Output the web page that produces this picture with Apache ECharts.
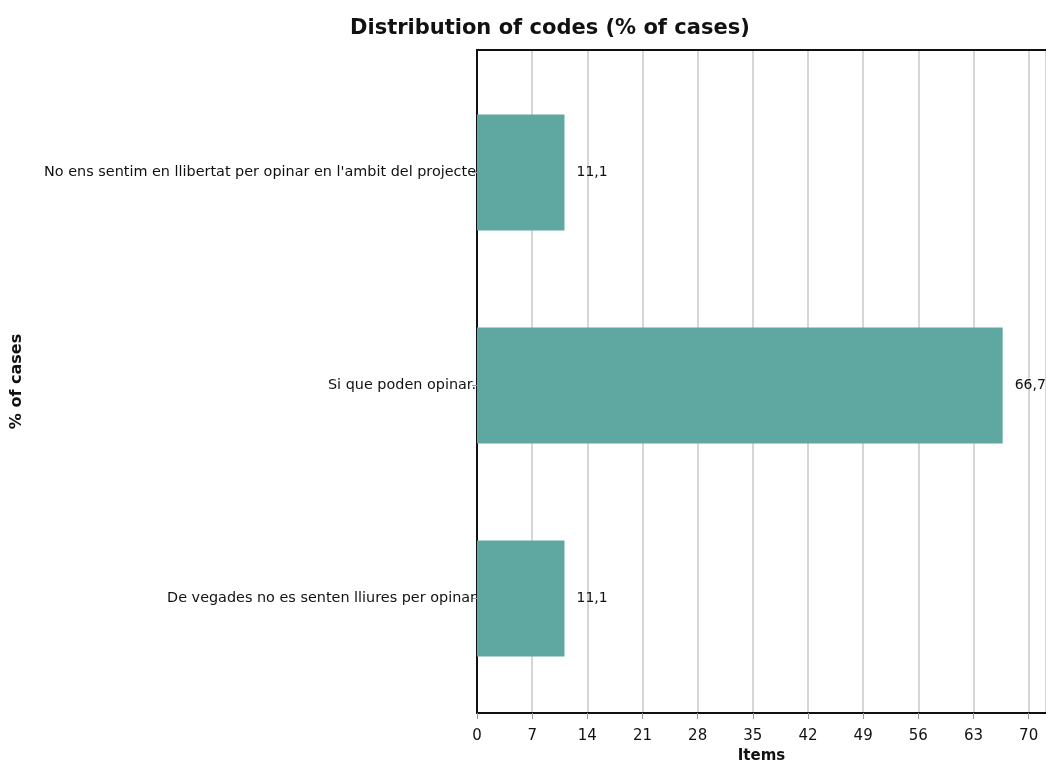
<!DOCTYPE html>
<html>
<head>
<meta charset="utf-8">
<script src="https://cdn.jsdelivr.net/npm/echarts@6/dist/echarts.min.js"></script>
<style>html,body{margin:0;padding:0;background:#fff}#c{width:1046px;height:762px}</style>
</head>
<body>
<div id="c"></div>
<script>
const categories = [
  "De vegades no es senten lliures per opinar",
  "Si que poden opinar.",
  "No ens sentim en llibertat per opinar en l'ambit del projecte"
];
const values = [11.1, 66.7, 11.1];
const chartTitle = "Distribution of codes (% of cases)";
const xName = "Items";
const yName = "% of cases";
const xMax = 72.2;
const xInterval = 7;

const chart = echarts.init(document.getElementById('c'), null, {renderer: 'canvas'});
const font = "'DejaVu Sans',sans-serif";
chart.setOption({
  animation: false,
  backgroundColor: '#ffffff',
  title: {
    text: chartTitle, left: 345, top: 13,
    textStyle: {fontFamily: font, fontWeight: 'bold', fontSize: 21, color: '#111'}
  },
  grid: [
    {left: 477, right: 0, top: 50, bottom: 49, outerBoundsMode: 'none', containLabel: false},
    {left: 477, right: 0, top: 66, bottom: 57, outerBoundsMode: 'none', containLabel: false}
  ],
  xAxis: [
    {
      gridIndex: 0, type: 'value', min: 0, max: xMax, interval: xInterval,
      name: xName, nameLocation: 'middle', nameGap: 36,
      nameTextStyle: {fontFamily: font, fontWeight: 'bold', fontSize: 15, color: '#111'},
      axisLine: {show: true, lineStyle: {color: '#111', width: 2}},
      axisTick: {show: true, length: 6, lineStyle: {color: '#999'}},
      axisLabel: {showMaxLabel: false, margin: 16, fontFamily: font, fontSize: 15, color: '#111',
        formatter: v => (Math.abs(v / xInterval - Math.round(v / xInterval)) < 1e-6) ? String(v) : ''},
      splitLine: {show: true, lineStyle: {color: '#c8c8c8', width: 1.5}}
    },
    {
      gridIndex: 0, type: 'value', min: 0, max: xMax, position: 'top',
      axisLine: {show: true, lineStyle: {color: '#111', width: 2}},
      axisTick: {show: false}, axisLabel: {show: false}, splitLine: {show: false}
    },
    {
      gridIndex: 1, type: 'value', min: 0, max: xMax, interval: xInterval, show: false
    }
  ],
  yAxis: [
    {
      gridIndex: 0, type: 'value', min: 0, max: 1,
      name: yName, nameLocation: 'middle', nameRotate: 90, nameGap: 452,
      nameTextStyle: {fontFamily: font, fontWeight: 'bold', fontSize: 16, color: '#111'},
      axisLine: {show: true, lineStyle: {color: '#111', width: 2}},
      axisTick: {show: false}, axisLabel: {show: false}, splitLine: {show: false}
    },
    {
      gridIndex: 1, type: 'category', data: categories,
      axisLine: {show: false},
      axisTick: {show: true, alignWithLabel: true, length: 5, lineStyle: {color: '#999'}},
      axisLabel: {margin: 1, fontFamily: font, fontSize: 14.4, color: '#111'}
    }
  ],
  series: [{
    type: 'bar', xAxisIndex: 2, yAxisIndex: 1, data: values,
    barWidth: 116,
    itemStyle: {color: '#5fa8a2'},
    label: {show: true, position: 'right', distance: 12, fontFamily: font, fontSize: 14, color: '#111',
      formatter: p => p.value.toFixed(1).replace('.', ',')}
  }]
});
</script>
</body>
</html>
